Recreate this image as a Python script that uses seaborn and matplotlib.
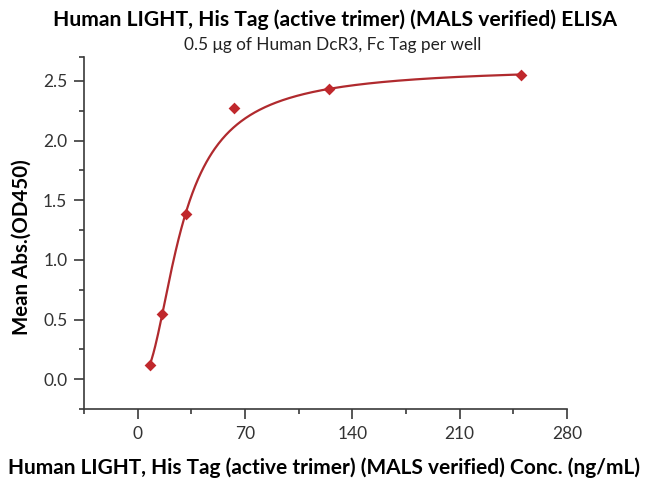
import numpy as np
import pandas as pd
import matplotlib
matplotlib.use("Agg")
import matplotlib.pyplot as plt
import seaborn as sns
from matplotlib.ticker import MultipleLocator, FixedLocator

# ---- data ----
conc = [7.8125, 15.625, 31.25, 62.5, 125, 250]          # ng/mL
mean_abs = [0.117, 0.545, 1.386, 2.269, 2.431, 2.548]    # OD450
x_ticks = [0, 70, 140, 210, 280]
y_ticks = [0.0, 0.5, 1.0, 1.5, 2.0, 2.5]

title = "Human LIGHT, His Tag (active trimer) (MALS verified) ELISA"
subtitle = "0.5 \u03bcg of Human DcR3, Fc Tag per well"
xlabel = "Human LIGHT, His Tag (active trimer) (MALS verified) Conc. (ng/mL)"
ylabel = "Mean Abs.(OD450)"

# ---- fitted logistic curve (5-parameter logistic, parameters read from the
#      reference's fitted line) ----
fit_bottom = 0.0
fit_top = 2.62
fit_ec = 21.6
fit_slope = 2.5
fit_asym = 0.6


def logistic5(xx):
    t = (xx / fit_ec) ** fit_slope
    return fit_top - (fit_top - fit_bottom) / (1.0 + t) ** fit_asym


xs = np.linspace(min(conc), max(conc), 400)
fit_df = pd.DataFrame({"conc": xs, "fit": logistic5(xs)})
pts_df = pd.DataFrame({"conc": conc, "abs": mean_abs})

# ---- styling ----
sns.set_style("ticks")
plt.rcParams["font.family"] = ["Lato", "DejaVu Sans"]

red = "#C0282C"
axis_col = "#3a3a3a"

fig = plt.figure(figsize=(6.47, 4.88), dpi=100)
ax = fig.add_axes([84 / 647, 1 - 409 / 488, (567 - 84) / 647, (409 - 57) / 488])

sns.lineplot(data=fit_df, x="conc", y="fit", ax=ax, color="#B02A2E", lw=1.6)
sns.scatterplot(data=pts_df, x="conc", y="abs", ax=ax, marker="D", s=36,
                color=red, edgecolor=red, linewidth=0, zorder=5)

ax.set_xlim(-35, 280)
ax.set_ylim(-0.25, 2.70)
ax.set_xticks(x_ticks)
ax.set_xticklabels([str(v) for v in x_ticks])
ax.set_yticks(y_ticks)
ax.set_yticklabels([f"{v:.1f}" for v in y_ticks])
ax.xaxis.set_minor_locator(MultipleLocator(35))
ax.yaxis.set_minor_locator(FixedLocator([-0.25, 0.25, 0.75, 1.25, 1.75, 2.25, 2.70]))

for side in ["top", "right"]:
    ax.spines[side].set_visible(False)
for side in ["left", "bottom"]:
    ax.spines[side].set_color(axis_col)
    ax.spines[side].set_linewidth(1.2)

ax.tick_params(which="major", direction="out", length=7, width=1.2, color=axis_col,
               labelsize=12.5, labelcolor="#333333", pad=5)
ax.tick_params(which="minor", direction="out", length=3.5, width=1.2, color=axis_col)

ax.set_xlabel(xlabel, fontsize=15, fontweight="bold", color="black", va="center")
ax.xaxis.set_label_coords((324 - 84) / 483, -(468 - 409) / 352)
ax.set_ylabel(ylabel, fontsize=14.8, fontweight="bold", color="black", va="center")
ax.yaxis.set_label_coords((22 - 84) / 483, (409 - 247) / 352)

fig.text(335 / 647, 1 - 20 / 488, title, ha="center", va="center",
         fontsize=15.2, fontweight="bold", color="black")
fig.text(333 / 647, 1 - 45 / 488, subtitle, ha="center", va="center",
         fontsize=12.4, color="#222222")

fig.savefig("out.png", dpi=100)
